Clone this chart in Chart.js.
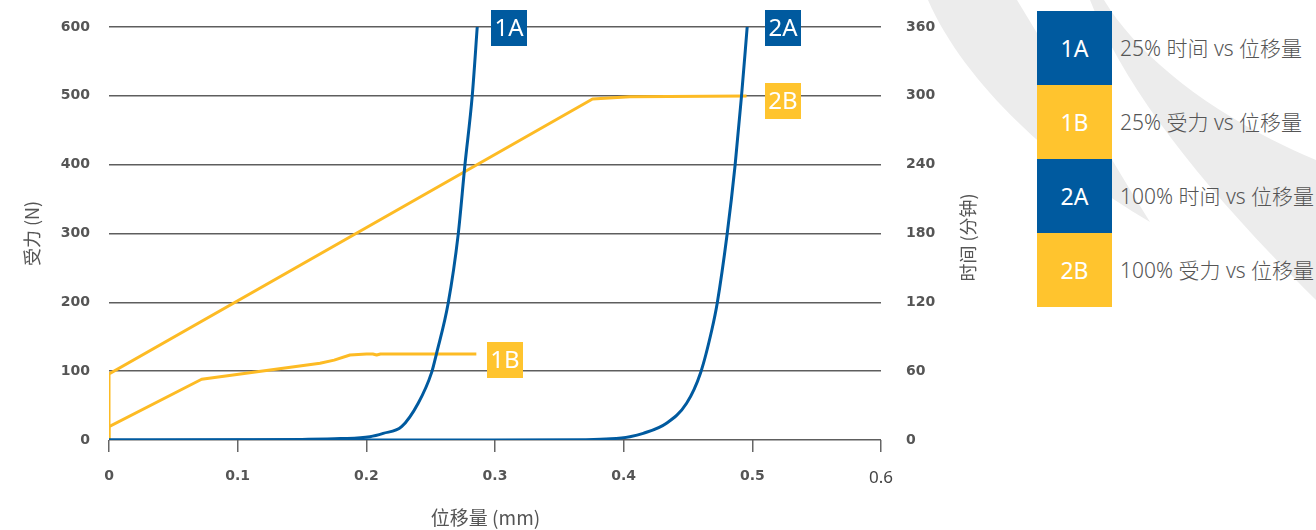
<!DOCTYPE html>
<html><head><meta charset="utf-8">
<script src="https://cdn.jsdelivr.net/npm/chart.js@4"></script>
<style>
html,body{margin:0;padding:0;background:#fff;}
body{width:1316px;height:530px;position:relative;overflow:hidden;font-family:"Noto Sans","Noto Sans CJK SC",sans-serif;}
#bg{position:absolute;left:0;top:0;}
#wrap{position:absolute;left:0;top:0;width:1000px;height:530px;}
#legend{position:absolute;left:1037px;top:11px;}
.row{position:relative;height:74px;}
.sw{position:absolute;left:0;top:0;width:75px;height:74px;color:#fff;font-size:23px;line-height:74px;text-align:center;}
.lt{position:absolute;left:83px;top:0;line-height:74px;white-space:nowrap;font-size:21px;color:#555;font-weight:300;font-family:"Noto Sans","Noto Sans CJK SC",sans-serif;}
</style></head>
<body>
<svg id="bg" width="1316" height="530">
  <path d="M928,0 C965,85 1060,170 1150,222 C1105,150 1060,70 1017,0 Z" fill="#ececec"/>
  <path d="M1090,0 C1125,90 1205,190 1316,300 L1316,160 C1220,120 1140,60 1104,0 Z" fill="#ececec"/>
</svg>
<div id="wrap"><canvas id="c"></canvas></div>
<div id="legend"></div>
<script>
// ---- data ----
const xTickValues = [0, 0.1, 0.2, 0.3, 0.4, 0.5, 0.6];
const xTickLabels = ['0', '0.1', '0.2', '0.3', '0.4', '0.5', '0.6'];
const forceTicks = [0, 100, 200, 300, 400, 500, 600];
const timeTicks = [0, 60, 120, 180, 240, 300, 360];

// 1A: 25% time vs displacement (minutes)
const s1A_x = [0, 0.10, 0.15, 0.18, 0.2028, 0.2131, 0.2274, 0.2403, 0.2507, 0.2546, 0.2636, 0.2714, 0.2766, 0.2823, 0.2862];
const s1A_y = [0, 0.2, 0.5, 1.2, 2.9, 5.8, 11.6, 32, 58.7, 75.6, 119.2, 179.3, 239.5, 299.9, 360];
// 1B: 25% force vs displacement (N)
const s1B_x = [0, 0, 0.072, 0.164, 0.175, 0.1873, 0.2002, 0.205, 0.208, 0.211, 0.2855];
const s1B_y = [0, 19.4, 88.2, 111.4, 116, 123.5, 124.9, 124.9, 123.5, 125, 125];
// 2A: 100% time vs displacement (minutes)
const s2A_x = [0, 0.30, 0.37, 0.39, 0.4048, 0.4152, 0.4333, 0.4489, 0.4598, 0.4685, 0.4727, 0.4804, 0.4866, 0.4916, 0.4960];
const s2A_y = [0, 0, 0.3, 1.0, 2.9, 5.8, 14.6, 32, 58.7, 95.9, 119.2, 179.3, 239.5, 299.9, 360];
// 2B: 100% force vs displacement (N)
const s2B_x = [0, 0, 0.3758, 0.4048, 0.4955];
const s2B_y = [0, 95.9, 495.4, 498.8, 499.8];

const legendCodes = ['1A', '1B', '2A', '2B'];
const legendTexts = ['25% 时间 vs 位移量', '25% 受力 vs 位移量', '100% 时间 vs 位移量', '100% 受力 vs 位移量'];

// ---- styles ----
const BLUE = '#005A9F';
const YELLOW = '#FDBB24';
const BOX_YELLOW = '#FFC42E';
const legendColors = [BLUE, BOX_YELLOW, BLUE, BOX_YELLOW];

const leg = document.getElementById('legend');
legendCodes.forEach((c, i) => {
  const r = document.createElement('div'); r.className = 'row';
  const s = document.createElement('div'); s.className = 'sw'; s.style.background = legendColors[i]; s.textContent = c;
  const t = document.createElement('div'); t.className = 'lt'; t.textContent = legendTexts[i];
  r.appendChild(s); r.appendChild(t); leg.appendChild(r);
});

const pts = (xs, ys) => xs.map((x, i) => ({x: x, y: ys[i]}));

const endLabels = {
  id: 'endLabels',
  afterDatasetsDraw(chart) {
    const ctx = chart.ctx;
    chart.data.datasets.forEach((ds, i) => {
      const meta = chart.getDatasetMeta(i);
      const p = meta.data[meta.data.length - 1];
      const o = ds.endLabel;
      const bx = p.x + o.dx, cy = p.y + o.dy;
      ctx.save();
      ctx.fillStyle = o.bg;
      ctx.fillRect(Math.round(bx), Math.round(cy - 18), 36, 36);
      ctx.fillStyle = '#fff';
      ctx.font = '24px "Noto Sans", sans-serif';
      ctx.textAlign = 'center'; ctx.textBaseline = 'middle';
      ctx.fillText(ds.label, Math.round(bx) + 18, cy + 1);
      ctx.restore();
    });
  }
};

const rightTitle = {
  id: 'rightTitle',
  afterDraw(chart) {
    const s = chart.scales.y2, ctx = chart.ctx;
    ctx.save();
    ctx.translate(s.right - 32, (chart.chartArea.top + chart.chartArea.bottom) / 2 + 4);
    ctx.rotate(-Math.PI / 2);
    ctx.fillStyle = '#555';
    ctx.font = '18px "Noto Sans CJK SC", sans-serif';
    ctx.textAlign = 'center'; ctx.textBaseline = 'middle';
    ctx.fillText('时间 (分钟)', 0, 0);
    ctx.restore();
  }
};

const tickFont = {family: '"DejaVu Sans", sans-serif', size: 14, weight: 'bold'};
const fitV = w => s => { s.width = w; s.paddingTop = 0; s.paddingBottom = 0; };

new Chart(document.getElementById('c'), {
  type: 'line',
  data: {
    datasets: [
      {label: '1A', data: pts(s1A_x, s1A_y), yAxisID: 'y2', borderColor: BLUE, borderWidth: 3, cubicInterpolationMode: 'monotone', endLabel: {dx: 14, dy: 1, bg: BLUE}},
      {label: '2A', data: pts(s2A_x, s2A_y), yAxisID: 'y2', borderColor: BLUE, borderWidth: 3, cubicInterpolationMode: 'monotone', endLabel: {dx: 18, dy: 1, bg: BLUE}},
      {label: '1B', data: pts(s1B_x, s1B_y), yAxisID: 'y', borderColor: YELLOW, borderWidth: 3, tension: 0, endLabel: {dx: 11, dy: 6, bg: BOX_YELLOW}},
      {label: '2B', data: pts(s2B_x, s2B_y), yAxisID: 'y', borderColor: YELLOW, borderWidth: 3, tension: 0, endLabel: {dx: 18, dy: 5, bg: BOX_YELLOW}}
    ]
  },
  options: {
    responsive: true, maintainAspectRatio: false, animation: false,
    elements: {point: {radius: 0}, line: {borderCapStyle: 'butt', borderJoinStyle: 'round'}},
    layout: {padding: {top: 27, left: 0, right: 0, bottom: 0}},
    plugins: {legend: {display: false}, tooltip: {enabled: false}},
    scales: {
      x: {
        type: 'linear', min: 0, max: 0.6,
        afterBuildTicks: s => { s.ticks = xTickValues.map(v => ({value: v})); },
        afterFit: s => { s.height = 90; s.paddingLeft = 0; s.paddingRight = 0; },
        grid: {drawOnChartArea: false, drawTicks: true, tickLength: 12, color: '#666', lineWidth: 1.5},
        border: {display: false},
        ticks: {
          padding: 16, maxRotation: 0, autoSkip: false,
          callback: (v, i) => xTickLabels[i],
          color: ctx => (ctx.index === xTickValues.length - 1 ? '#444' : '#555'),
          font: ctx => (ctx.index === xTickValues.length - 1 ? {family: '"Noto Sans", sans-serif', size: 17, weight: 'normal'} : tickFont)
        },
        title: {display: true, text: '位移量 (mm)\u2003', color: '#555', font: {family: '"Noto Sans CJK SC", sans-serif', size: 19}, padding: {top: 0, bottom: 1}}
      },
      y: {
        position: 'left', min: 0, max: 600,
        afterBuildTicks: s => { s.ticks = forceTicks.map(v => ({value: v})); },
        afterFit: fitV(109),
        grid: {drawTicks: false, color: '#5e5e5e', lineWidth: 1.5},
        border: {display: false},
        ticks: {padding: 19, color: '#555', font: tickFont, callback: (v, i) => String(forceTicks[i])},
        title: {display: true, text: '受力 (N)', color: '#555', font: {family: '"Noto Sans CJK SC", sans-serif', size: 18}, padding: {top: 21, bottom: 0}}
      },
      y2: {
        position: 'right', min: 0, max: 360,
        afterBuildTicks: s => { s.ticks = timeTicks.map(v => ({value: v})); },
        afterFit: fitV(119),
        grid: {drawOnChartArea: false, drawTicks: false},
        border: {display: false},
        ticks: {padding: 25, color: '#555', font: tickFont, callback: (v, i) => String(timeTicks[i])}
      }
    }
  },
  plugins: [endLabels, rightTitle]
});
</script>
</body></html>
